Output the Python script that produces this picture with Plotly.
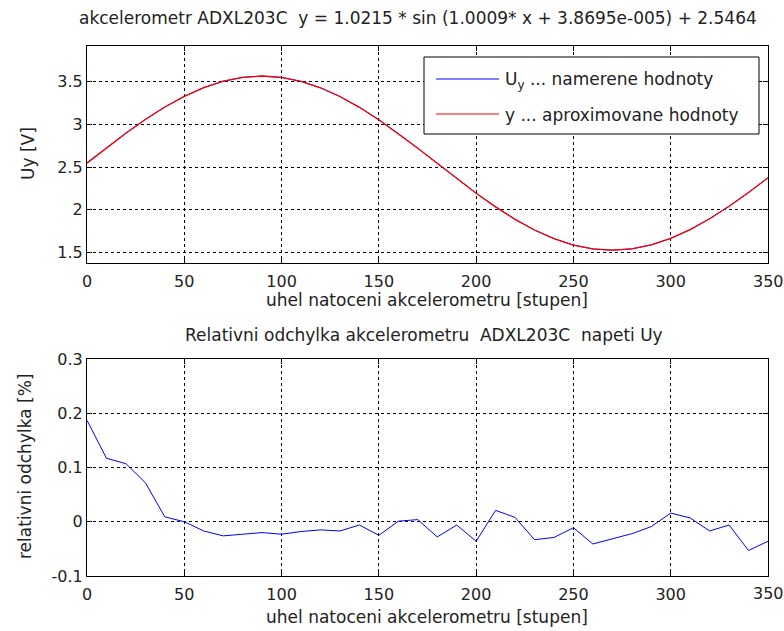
import plotly.graph_objects as go

# ---- data ----
angle = [0, 10, 20, 30, 40, 50, 60, 70, 80, 90, 100, 110, 120, 130, 140, 150, 160, 170,
         180, 190, 200, 210, 220, 230, 240, 250, 260, 270, 280, 290, 300, 310, 320, 330, 340, 350]

uy_measured = [2.551, 2.727, 2.899, 3.060, 3.204, 3.329, 3.431, 3.506, 3.552, 3.567, 3.551, 3.505,
               3.430, 3.327, 3.201, 3.054, 2.893, 2.721, 2.543, 2.366, 2.193, 2.033, 1.887, 1.761,
               1.660, 1.585, 1.539, 1.525, 1.541, 1.588, 1.664, 1.767, 1.894, 2.040, 2.201, 2.374]

uy_approx = [2.546, 2.724, 2.896, 3.058, 3.204, 3.329, 3.432, 3.507, 3.553, 3.568, 3.552, 3.506,
             3.430, 3.328, 3.201, 3.055, 2.893, 2.721, 2.544, 2.366, 2.194, 2.033, 1.887, 1.762,
             1.660, 1.585, 1.540, 1.525, 1.541, 1.588, 1.664, 1.767, 1.894, 2.040, 2.202, 2.375]

rel_dev = [0.187, 0.117, 0.107, 0.072, 0.009, 0.000, -0.017, -0.026, -0.023, -0.020, -0.023, -0.018,
           -0.015, -0.017, -0.006, -0.025, 0.001, 0.004, -0.028, -0.006, -0.036, 0.021, 0.008, -0.033,
           -0.029, -0.011, -0.041, -0.031, -0.022, -0.009, 0.016, 0.007, -0.017, -0.006, -0.053, -0.036]

x_ticks = [0, 50, 100, 150, 200, 250, 300, 350]
x_labels = ["0", "50", "100", "150", "200", "250", "300", "350"]
y1_ticks = [1.5, 2, 2.5, 3, 3.5]
y1_labels = ["1.5", "2", "2.5", "3", "3.5"]
y2_ticks = [-0.1, 0, 0.1, 0.2, 0.3]
y2_labels = ["-0.1", "0", "0.1", "0.2", "0.3"]

title_top = "akcelerometr ADXL203C  y = 1.0215 * sin (1.0009* x + 3.8695e-005) + 2.5464"
title_bottom = "Relativni odchylka akcelerometru  ADXL203C  napeti Uy"
xlabel = "uhel natoceni akcelerometru [stupen]"
ylabel_top = "Uy [V]"
ylabel_bottom = "relativni odchylka [%]"
legend_labels = ["U<sub>y</sub> ... namerene hodnoty", "y ... aproximovane hodnoty"]

# ---- layout geometry (pixels) ----
W, H = 784, 631
L, R, T, B = 87, 16, 46, 55
PW, PH = W - L - R, H - T - B
FONT = "DejaVu Sans, Liberation Sans, sans-serif"
FS = 17
TFS = 16
TXT = "#222"


def px(xp):
    return (xp - L) / PW


def py(yp):
    return (H - B - yp) / PH


top_dom = [py(263), 1.0]
bot_dom = [0.0, py(359)]

fig = go.Figure()
fig.add_trace(go.Scatter(x=angle, y=uy_measured, mode="lines", line=dict(color="#0000ff", width=1),
                         xaxis="x", yaxis="y", showlegend=False))
fig.add_trace(go.Scatter(x=angle, y=uy_approx, mode="lines", line=dict(color="#ff0000", width=1.3),
                         xaxis="x", yaxis="y", showlegend=False))
fig.add_trace(go.Scatter(x=angle, y=rel_dev, mode="lines", line=dict(color="#0000ff", width=1),
                         xaxis="x2", yaxis="y2", showlegend=False))

axis_common = dict(showline=True, linecolor="black", linewidth=1, mirror="ticks", ticks="inside",
                   ticklen=5, tickcolor="black", showgrid=True, gridcolor="black", gridwidth=1,
                   griddash="3px,3px", zeroline=False,
                   tickfont=dict(family=FONT, size=TFS, color=TXT))
# the last x tick label sits on the right figure edge; it is placed as an annotation
# on the x scale so that it is not hidden by the library's overflow rule
xaxis_extra = dict(ticklabelstandoff=4, tickvals=x_ticks[:-1], ticktext=x_labels[:-1], range=[0, 350])

fig.update_layout(
    width=W, height=H, margin=dict(l=L, r=R, t=T, b=B), paper_bgcolor="white", plot_bgcolor="white",
    showlegend=False, font=dict(family=FONT, size=FS, color=TXT),
    xaxis=dict(domain=[0, 1], anchor="y", **axis_common, **xaxis_extra),
    yaxis=dict(domain=top_dom, range=[1.375, 3.92], tickvals=y1_ticks, ticktext=y1_labels,
               anchor="x", **axis_common),
    xaxis2=dict(domain=[0, 1], anchor="y2", **axis_common, **xaxis_extra),
    yaxis2=dict(domain=bot_dom, range=[-0.1, 0.3], tickvals=y2_ticks, ticktext=y2_labels,
                anchor="x2", **axis_common),
)

ann = []


def text(t, x, y, xa="center", ya="middle", angle=0, size=FS):
    ann.append(dict(text=t, x=px(x), y=py(y), xref="paper", yref="paper", xanchor=xa, yanchor=ya,
                    showarrow=False, textangle=angle, font=dict(family=FONT, size=size, color=TXT)))


text(title_top, 418, 18)
text(xlabel, 427, 300)
text(title_bottom, 424, 335)
text(xlabel, 427, 617)
text(ylabel_top, 28, 154, angle=-90)
text(ylabel_bottom, 25, 467, angle=-90)
text(legend_labels[0], 503, 80, xa="left")
text(legend_labels[1], 503, 115, xa="left")

for xref, ypx in (("x", 281), ("x2", 593)):
    ann.append(dict(text=x_labels[-1], x=x_ticks[-1], xref=xref, y=py(ypx), yref="paper",
                    xanchor="center", yanchor="middle", showarrow=False,
                    font=dict(family=FONT, size=TFS, color=TXT)))

shapes = [
    dict(type="rect", xref="paper", yref="paper", x0=px(424), x1=px(759), y0=py(134), y1=py(57),
         line=dict(color="black", width=1), fillcolor="white", layer="above"),
    dict(type="line", xref="paper", yref="paper", x0=px(436), x1=px(499), y0=py(79), y1=py(79),
         line=dict(color="#0000ff", width=1), layer="above"),
    dict(type="line", xref="paper", yref="paper", x0=px(436), x1=px(499), y0=py(114), y1=py(114),
         line=dict(color="#ff0000", width=1), layer="above"),
]
fig.update_layout(annotations=ann, shapes=shapes)

fig.write_html("out.html")
